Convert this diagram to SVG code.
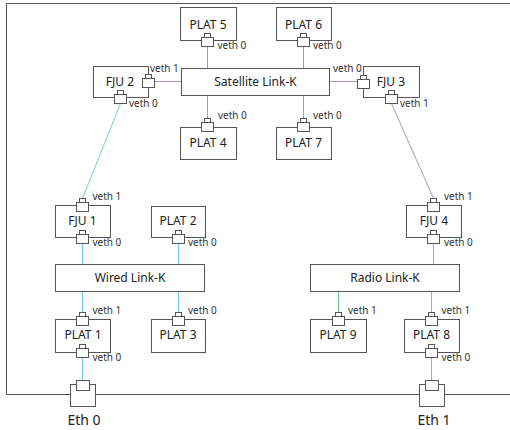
<svg xmlns="http://www.w3.org/2000/svg" xmlns:xlink="http://www.w3.org/1999/xlink" width="510" height="430" viewBox="0 0 510 430">
<style>
.box{fill:#fff;stroke:#555;stroke-width:1}
.pt{fill:#fff;stroke:#555;stroke-width:1}
.lbl{font-family:"Noto Sans","Liberation Sans",sans-serif;font-size:12px;fill:#222;text-anchor:middle}
.eth{font-family:"Noto Sans","Liberation Sans",sans-serif;font-size:14px;fill:#222;text-anchor:middle}
.vt{font-family:"Noto Sans","Liberation Sans",sans-serif;font-size:10px;fill:#333}
.cp{stroke:#b08fcc;stroke-width:1;fill:none}
.cb{stroke:#6ccaf0;stroke-width:1;fill:none}
.cg{stroke:#6ccb94;stroke-width:1;fill:none}
.frame{fill:none;stroke:#555;stroke-width:1}
</style>
<defs>
<g id="port"><rect class="pt" x="-6" y="4" width="12" height="9"/><rect class="pt" x="-3" y="0" width="6" height="4"/></g>
<g id="ethport"><rect class="pt" x="-12" y="4" width="25" height="22"/><rect class="pt" x="-6" y="0" width="13" height="10"/></g>
</defs>
<path class="frame" d="M515 3.5H6.5V394.5H515"/>
<g id="connectors">
<path class="cp" d="M207.5 46.5V68.5"/>
<path class="cp" d="M303.5 46.5V68.5"/>
<path class="cp" d="M207.5 95.5V118.5"/>
<path class="cp" d="M303.5 95.5V118.5"/>
<path class="cp" d="M154.5 81.5H181.5"/>
<path class="cp" d="M329.5 81.5H357.5"/>
<path class="cp" d="M391.5 103.5L433.5 198.5"/>
<path class="cb" d="M120.5 103.5L82.5 198.5"/>
<path class="cb" d="M82.5 243.5V264.5"/>
<path class="cb" d="M178.5 243.5V264.5"/>
<path class="cb" d="M82.5 291.5V312.5"/>
<path class="cb" d="M178.5 291.5V312.5"/>
<path class="cb" d="M82.5 357.5V380.5"/>
<path class="cg" d="M433.5 243.5V264.5"/>
<path class="cg" d="M338.5 291.5V312.5"/>
<path class="cg" d="M431.5 291.5V312.5"/>
<path class="cg" d="M431.5 357.5V380.5"/>
</g>
<g id="plat5"><rect class="box" x="180.5" y="7.5" width="56" height="33"/><text class="lbl" x="208" y="29">PLAT 5</text><use xlink:href="#port" x="207.5" y="33.5"/><text class="vt" x="217.5" y="49">veth 0</text></g>
<g id="plat6"><rect class="box" x="276.5" y="7.5" width="55" height="33"/><text class="lbl" x="303.5" y="29">PLAT 6</text><use xlink:href="#port" x="303.5" y="33.5"/><text class="vt" x="313" y="49">veth 0</text></g>
<g id="satellite"><rect class="box" x="181.5" y="68.5" width="148" height="27"/><text class="lbl" x="255.5" y="86">Satellite Link-K</text></g>
<g id="plat4"><rect class="box" x="180.5" y="127.5" width="56" height="32"/><text class="lbl" x="208" y="147">PLAT 4</text><use xlink:href="#port" x="207.5" y="118.5"/><text class="vt" x="218" y="119">veth 0</text></g>
<g id="plat7"><rect class="box" x="276.5" y="127.5" width="55" height="32"/><text class="lbl" x="303.5" y="147">PLAT 7</text><use xlink:href="#port" x="303.5" y="118.5"/><text class="vt" x="313" y="119">veth 0</text></g>
<g id="fju2"><rect class="box" x="93.5" y="66.5" width="55" height="31"/><text class="lbl" x="120" y="86">FJU 2</text><use xlink:href="#port" x="148.5" y="74.5"/><text class="vt" x="150" y="72">veth 1</text><use xlink:href="#port" x="120.5" y="90.5"/><text class="vt" x="129" y="107">veth 0</text></g>
<g id="fju3"><rect class="box" x="363.5" y="66.5" width="56" height="31"/><text class="lbl" x="391" y="86">FJU 3</text><use xlink:href="#port" x="363.5" y="75.5"/><text class="vt" x="333" y="72">veth 0</text><use xlink:href="#port" x="391.5" y="90.5"/><text class="vt" x="400" y="107">veth 1</text></g>
<g id="fju1"><rect class="box" x="55.5" y="205.5" width="55" height="32"/><text class="lbl" x="82.5" y="225">FJU 1</text><use xlink:href="#port" x="82.5" y="198.5"/><text class="vt" x="92.5" y="200">veth 1</text><use xlink:href="#port" x="82.5" y="230.5"/><text class="vt" x="92.5" y="246">veth 0</text></g>
<g id="plat2"><rect class="box" x="151.5" y="206.5" width="54" height="31"/><text class="lbl" x="178" y="225">PLAT 2</text><use xlink:href="#port" x="178.5" y="230.5"/><text class="vt" x="188" y="246">veth 0</text></g>
<g id="fju4"><rect class="box" x="406.5" y="205.5" width="55" height="32"/><text class="lbl" x="434" y="225">FJU 4</text><use xlink:href="#port" x="433.5" y="198.5"/><text class="vt" x="444" y="200">veth 1</text><use xlink:href="#port" x="433.5" y="230.5"/><text class="vt" x="444" y="246">veth 0</text></g>
<g id="wired"><rect class="box" x="55.5" y="264.5" width="149" height="27"/><text class="lbl" x="130" y="282">Wired Link-K</text></g>
<g id="radio"><rect class="box" x="310.5" y="264.5" width="149" height="27"/><text class="lbl" x="385" y="282">Radio Link-K</text></g>
<g id="plat1"><rect class="box" x="55.5" y="319.5" width="55" height="33"/><text class="lbl" x="83" y="339">PLAT 1</text><use xlink:href="#port" x="82.5" y="312.5"/><text class="vt" x="92.5" y="314">veth 1</text><use xlink:href="#port" x="82.5" y="344.5"/><text class="vt" x="92.5" y="361">veth 0</text></g>
<g id="plat3"><rect class="box" x="151.5" y="319.5" width="54" height="33"/><text class="lbl" x="178" y="339">PLAT 3</text><use xlink:href="#port" x="178.5" y="312.5"/><text class="vt" x="188" y="314">veth 0</text></g>
<g id="plat9"><rect class="box" x="310.5" y="319.5" width="56" height="33"/><text class="lbl" x="338" y="339">PLAT 9</text><use xlink:href="#port" x="338.5" y="312.5"/><text class="vt" x="348" y="314">veth 1</text></g>
<g id="plat8"><rect class="box" x="404.5" y="319.5" width="55" height="33"/><text class="lbl" x="431.5" y="339">PLAT 8</text><use xlink:href="#port" x="431.5" y="312.5"/><text class="vt" x="441.5" y="314">veth 1</text><use xlink:href="#port" x="431.5" y="344.5"/><text class="vt" x="441.5" y="361">veth 0</text></g>
<g id="eth0"><use xlink:href="#ethport" x="82.5" y="380.5"/><text class="eth" x="84" y="425">Eth 0</text></g>
<g id="eth1"><use xlink:href="#ethport" x="431.5" y="380.5"/><text class="eth" x="434" y="425">Eth 1</text></g>
</svg>
